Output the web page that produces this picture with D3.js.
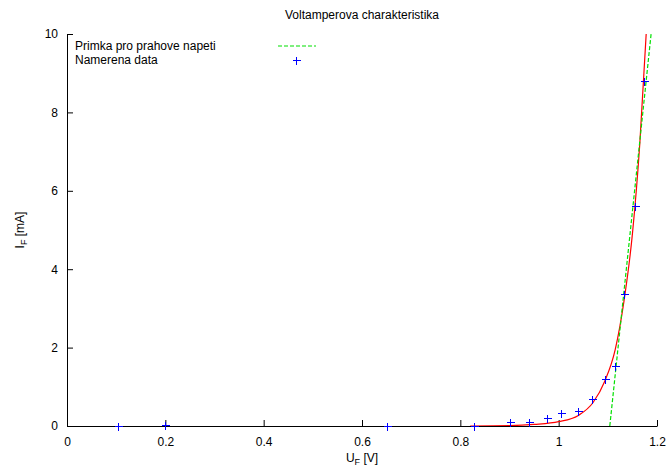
<!DOCTYPE html>
<html>
<head>
<meta charset="utf-8">
<script src="https://cdn.jsdelivr.net/npm/d3@7"></script>
<style>
body { margin: 0; background: #fff; }
svg text { font-family: "Liberation Sans", Arial, sans-serif; font-size: 12px; fill: #000; }
</style>
</head>
<body>
<div id="chart"></div>
<script>
// measured points (U_F [V], I_F [mA])
var measU = [0.104, 0.2, 0.65, 0.827, 0.902, 0.940, 0.977, 1.005, 1.040, 1.068, 1.094, 1.114, 1.133, 1.156, 1.173];
var measI = [0, 0.02, 0, 0, 0.09, 0.09, 0.2, 0.32, 0.39, 0.68, 1.21, 1.53, 3.37, 5.62, 8.79];

// fitted curve
var fitU = [0.82, 0.90, 0.95, 1.00, 1.04, 1.07, 1.094, 1.115, 1.133, 1.15, 1.165, 1.178];
var fitI = [0.0, 0.01, 0.04, 0.11, 0.27, 0.60, 1.15, 1.95, 3.2, 4.9, 7.2, 10.0];

// threshold line
var lineU = [1.104, 1.188];
var lineI = [0, 10];

var xTicks = [0, 0.2, 0.4, 0.6, 0.8, 1, 1.2];
var yTicks = [0, 2, 4, 6, 8, 10];

var margin = { top: 34, right: 12, bottom: 43, left: 67 },
    width = 669 - margin.left - margin.right,
    height = 469 - margin.top - margin.bottom;

var svg = d3.select("#chart")
    .append("svg")
    .attr("width", 669)
    .attr("height", 469);

var g = svg.append("g")
    .attr("transform", "translate(" + margin.left + "," + margin.top + ")");

var x = d3.scaleLinear().domain([0, 1.2]).range([0, width]);
var y = d3.scaleLinear().domain([0, 10]).range([height, 0]);

g.append("clipPath").attr("id", "clip")
    .append("rect").attr("x", 0).attr("y", 0).attr("width", width).attr("height", height);

// axes, ticks pointing inwards
var xAxis = g.append("g")
    .attr("transform", "translate(0," + height + ")")
    .call(d3.axisBottom(x).tickValues(xTicks).tickSizeInner(-6).tickSizeOuter(0)
        .tickPadding(11).tickFormat(d3.format("")));
var yAxis = g.append("g")
    .call(d3.axisLeft(y).tickValues(yTicks).tickSizeInner(-6).tickSizeOuter(0)
        .tickPadding(9).tickFormat(d3.format("")));

[xAxis, yAxis].forEach(function(a) {
    a.selectAll("text").style("font-size", "12px").style("font-family", "Liberation Sans, Arial, sans-serif");
    a.select(".domain").attr("stroke", "#000");
    a.selectAll("line").attr("stroke", "#000");
});

// fitted curve
var fitData = fitU.map(function(u, i) { return [u, fitI[i]]; });
g.append("path")
    .datum(fitData)
    .attr("clip-path", "url(#clip)")
    .attr("fill", "none")
    .attr("stroke", "#ff0000")
    .attr("stroke-width", 1.2)
    .attr("d", d3.line()
        .x(function(d) { return x(d[0]); })
        .y(function(d) { return y(d[1]); })
        .curve(d3.curveMonotoneX));

// threshold line
var lineData = lineU.map(function(u, i) { return [u, lineI[i]]; });
g.append("path")
    .datum(lineData)
    .attr("fill", "none")
    .attr("stroke", "#00e000")
    .attr("stroke-width", 1.2)
    .attr("stroke-dasharray", "4,2")
    .attr("d", d3.line()
        .x(function(d) { return x(d[0]); })
        .y(function(d) { return y(d[1]); }));

// measured points as "+"
var s = 4;
function plus(px, py) {
    px = Math.round(px) + 0.5;
    py = Math.round(py) + 0.5;
    return "M" + (px - s) + "," + py + "H" + (px + s) + "M" + px + "," + (py - s) + "V" + (py + s);
}
g.selectAll(".pt")
    .data(measU.map(function(u, i) { return [u, measI[i]]; }))
    .enter()
    .append("path")
    .attr("class", "pt")
    .attr("fill", "none")
    .attr("stroke", "#0000ff")
    .attr("stroke-width", 1)
    .attr("shape-rendering", "crispEdges")
    .attr("d", function(d) { return plus(x(d[0]), y(d[1])); });

// title and axis labels
svg.append("text")
    .attr("x", margin.left + width / 2)
    .attr("y", 19)
    .attr("text-anchor", "middle")
    .text("Voltamperova charakteristika");

var xl = svg.append("text")
    .attr("x", margin.left + width / 2)
    .attr("y", 462)
    .attr("text-anchor", "middle");
xl.append("tspan").text("U");
xl.append("tspan").attr("dy", 3).style("font-size", "9px").text("F");
xl.append("tspan").attr("dy", -3).text(" [V]");

var yl = svg.append("text")
    .attr("transform", "translate(24," + (margin.top + height / 2) + ") rotate(-90)")
    .attr("text-anchor", "middle");
yl.append("tspan").text("I");
yl.append("tspan").attr("dy", 3).style("font-size", "9px").text("F");
yl.append("tspan").attr("dy", -3).text(" [mA]");

// legend
var legend = svg.append("g");
legend.append("text").attr("x", 75).attr("y", 50).text("Primka pro prahove napeti");
legend.append("text").attr("x", 75).attr("y", 64).text("Namerena data");
legend.append("line")
    .attr("x1", 278).attr("x2", 316).attr("y1", 46).attr("y2", 46)
    .attr("stroke", "#00e000").attr("stroke-width", 1.2).attr("stroke-dasharray", "4,2");
legend.append("path")
    .attr("fill", "none").attr("stroke", "#0000ff")
    .attr("shape-rendering", "crispEdges")
    .attr("d", plus(296, 60));
</script>
</body>
</html>
